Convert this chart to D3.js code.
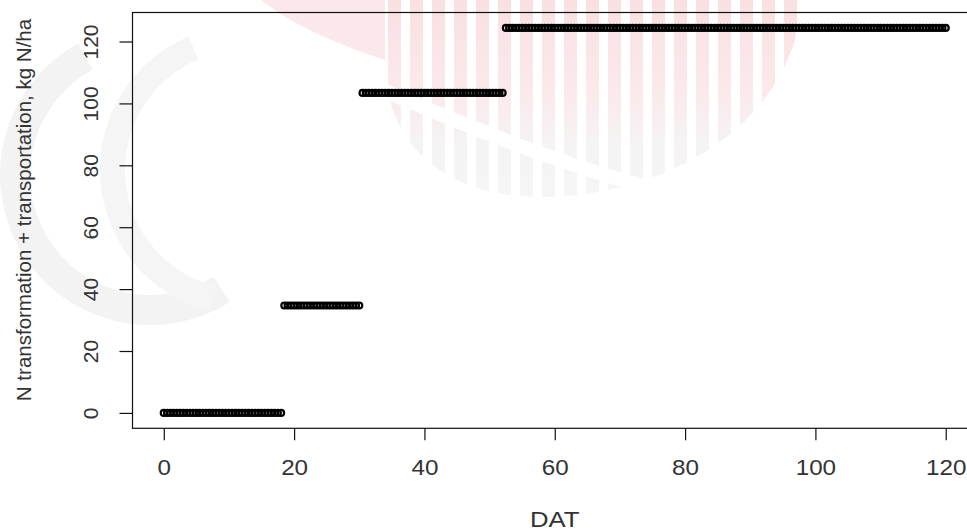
<!DOCTYPE html>
<html>
<head>
<meta charset="utf-8">
<script src="https://cdn.jsdelivr.net/npm/d3@7"></script>
<style>
  html, body { margin: 0; padding: 0; background: #ffffff; }
  svg { display: block; }
  text { font-family: "Liberation Sans", Arial, sans-serif; }
</style>
</head>
<body>
<svg id="chart" width="967" height="531"></svg>
<script>
// Cumulative N transformation + transportation (kg N/ha) against days after transplanting.
// The model reports a constant total between events; each step is listed by its first
// and last reported day and the total held over that span.
const stepFirstDay = [0, 18.5, 30.5, 52.5];
const stepLastDay  = [18, 30, 52, 120];
const stepTotal    = [0, 34.7, 103.4, 124.4];
const outputStep   = 0.5;           // days between model outputs

const xTicks = [0, 20, 40, 60, 80, 100, 120];
const yTicks = [0, 20, 40, 60, 80, 100, 120];
const xTitle = "DAT";
const yTitle = "N transformation + transportation, kg N/ha";

// Expand the steps into the reported output records.
const records = [];
stepFirstDay.forEach((first, i) => {
  const n = Math.round((stepLastDay[i] - first) / outputStep);
  for (let k = 0; k <= n; k++) {
    records.push({ dat: first + k * outputStep, total: stepTotal[i] });
  }
});

const svg = d3.select("#chart");
const textColour = "#333333";

// Plot region (base-graphics style: 4% padding around the data range).
const plot = { left: 132.5, right: 977, top: 12.5, bottom: 428.3 };
const pad = ext => { const d = (ext[1] - ext[0]) * 0.04; return [ext[0] - d, ext[1] + d]; };

const x = d3.scaleLinear()
  .domain(pad(d3.extent(records, d => d.dat)))
  .range([plot.left, plot.right]);
const y = d3.scaleLinear()
  .domain(pad(d3.extent(records, d => d.total)))
  .range([plot.bottom, plot.top]);

// Faint crest and lettering in the background.
const wm = svg.append("g").attr("class", "backdrop");
const defs = svg.append("defs");
defs.append("clipPath").attr("id", "crest").append("path")
  .attr("d", "M385,-5 L385,70 C390,150 450,197 540,197 C640,197 760,150 795,40 L800,-5 Z");
const fade = defs.append("linearGradient").attr("id", "crestFade")
  .attr("x1", 0).attr("y1", 0).attr("x2", 0).attr("y2", 1);
fade.append("stop").attr("offset", "0%").attr("stop-color", "#f9dfe2");
fade.append("stop").attr("offset", "45%").attr("stop-color", "#fbe9eb");
fade.append("stop").attr("offset", "70%").attr("stop-color", "#f5f3f3");
fade.append("stop").attr("offset", "100%").attr("stop-color", "#f6f6f6");

const crest = wm.append("g").attr("clip-path", "url(#crest)");
for (let sx = 388; sx < 800; sx += 22) {
  crest.append("rect").attr("x", sx).attr("y", -5).attr("width", 13).attr("height", 210)
    .attr("fill", "url(#crestFade)");
}
crest.append("path")
  .attr("d", "M300,55 C430,110 560,170 700,200")
  .attr("fill", "none").attr("stroke", "#ffffff").attr("stroke-width", 14);
wm.append("path")
  .attr("d", "M255,-5 L385,-5 L385,60 C340,45 290,25 255,-5 Z")
  .attr("fill", "#fbe8ea");

wm.append("path")
  .attr("d", d3.arc()({ innerRadius: 120, outerRadius: 150, startAngle: -3.7, endAngle: -0.5 }))
  .attr("transform", "translate(150,175)")
  .attr("fill", "#f3f3f3");
wm.append("path")
  .attr("d", d3.arc()({ innerRadius: 120, outerRadius: 145, startAngle: -2.9, endAngle: -0.4 }))
  .attr("transform", "translate(245,170)")
  .attr("fill", "#f5f5f5");

// Box around the plot region.
svg.append("rect")
  .attr("x", plot.left).attr("y", plot.top)
  .attr("width", plot.right - plot.left).attr("height", plot.bottom - plot.top)
  .attr("fill", "none").attr("stroke", "#111").attr("stroke-width", 1.2);

// X axis.
const xAxis = svg.append("g")
  .attr("transform", `translate(0,${plot.bottom})`)
  .call(d3.axisBottom(x).tickValues(xTicks).tickSize(12).tickFormat(d3.format("d")));
xAxis.select(".domain").remove();
xAxis.selectAll(".tick line").attr("stroke", "#111").attr("stroke-width", 1.2);
xAxis.selectAll(".tick text")
  .attr("y", 46.5).attr("dy", null)
  .attr("transform", "scale(1.1,1)")
  .style("font-size", "22px").style("fill", textColour);

// Y axis with labels parallel to the axis.
const yAxis = svg.append("g")
  .attr("transform", `translate(${plot.left},0)`)
  .call(d3.axisLeft(y).tickValues(yTicks).tickSize(13).tickFormat(d3.format("d")));
yAxis.select(".domain").remove();
yAxis.selectAll(".tick line").attr("stroke", "#111").attr("stroke-width", 1.2);
yAxis.selectAll(".tick text")
  .attr("x", 0).attr("y", -34.5).attr("dy", null)
  .attr("text-anchor", "middle")
  .attr("transform", "rotate(-90)")
  .style("font-size", "21px").style("fill", textColour);

// Axis titles.
svg.append("text")
  .attr("transform", `translate(${(plot.left + plot.right) / 2},527) scale(1.12,1)`)
  .attr("text-anchor", "middle")
  .style("font-size", "23px").style("fill", textColour)
  .text(xTitle);
svg.append("text")
  .attr("transform", "translate(31,210) rotate(-90)")
  .attr("text-anchor", "middle")
  .style("font-size", "20.5px").style("fill", textColour)
  .text(yTitle);

// Output records as open circles.
svg.append("g")
  .selectAll("circle")
  .data(records)
  .join("circle")
  .attr("cx", d => x(d.dat))
  .attr("cy", d => y(d.total))
  .attr("r", 3.0)
  .attr("fill", "none")
  .attr("stroke", "#000")
  .attr("stroke-width", 2.2);
</script>
</body>
</html>
